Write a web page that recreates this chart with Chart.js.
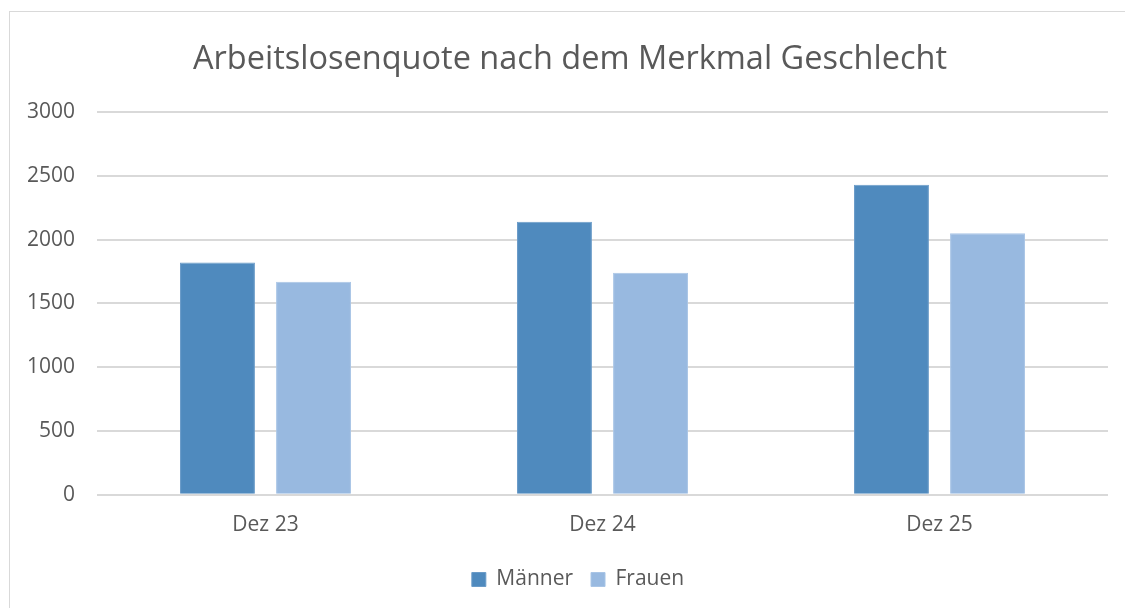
<!DOCTYPE html>
<html>
<head>
<meta charset="utf-8">
<script src="https://cdn.jsdelivr.net/npm/chart.js@4"></script>
<style>
  html, body { margin: 0; padding: 0; background: #fff; overflow: hidden; }
  #frame {
    position: absolute; left: 9px; top: 11px; width: 1200px; height: 620px;
    border: 1px solid #d9d9d9; box-sizing: border-box;
  }
  #wrap { position: absolute; left: 0; top: 0; width: 1125px; height: 608px; }
</style>
</head>
<body>
<div id="frame"></div>
<div id="wrap"><canvas id="chart"></canvas></div>
<script>
const categories = ["Dez 23", "Dez 24", "Dez 25"];
const maenner = [1820, 2140, 2430];
const frauen = [1670, 1740, 2050];
const yTicks = [0, 500, 1000, 1500, 2000, 2500, 3000];

const textColor = "#595959";
const font = "'Open Sans', sans-serif";

// title and legend sit a bit right of centre in the original
const shiftBlocks = {
  id: "shiftBlocks",
  afterLayout(chart) {
    chart.titleBlock.left += 16;
    chart.titleBlock.right += 16;
    chart.legend.left += 24;
    chart.legend.right += 24;
  },
};

const ctx = document.getElementById("chart").getContext("2d");

new Chart(ctx, {
  type: "bar",
  data: {
    labels: categories,
    datasets: [
      {
        label: "Männer",
        data: maenner,
        backgroundColor: "#4f8abe",
        borderColor: "#6a9bc8",
        borderWidth: 1,
      },
      {
        label: "Frauen",
        data: frauen,
        backgroundColor: "#98b9e0",
        borderColor: "#a9c5e6",
        borderWidth: 1,
      },
    ],
  },
  options: {
    responsive: true,
    maintainAspectRatio: false,
    animation: false,
    devicePixelRatio: 1,
    layout: { padding: { left: 0, right: 17, top: 40, bottom: 8 } },
    categoryPercentage: 0.57,
    barPercentage: 0.78,
    plugins: {
      title: {
        display: true,
        text: "Arbeitslosenquote nach dem Merkmal Geschlecht",
        color: textColor,
        font: { family: font, size: 32.5, weight: "normal" },
        padding: { top: 0, bottom: 33 },
      },
      legend: {
        position: "bottom",
        labels: {
          color: textColor,
          font: { family: font, size: 21 },
          boxWidth: 14,
          boxHeight: 14,
          padding: 18,
        },
      },
      tooltip: { enabled: false },
    },
    scales: {
      x: {
        grid: { display: false },
        border: { display: false },
        afterFit: (s) => { s.height += 3; },
        ticks: { color: textColor, font: { family: font, size: 21 }, padding: 10 },
      },
      y: {
        min: 0,
        max: 3000,
        afterBuildTicks: (s) => { s.ticks = yTicks.map((v) => ({ value: v })); },
        afterFit: (s) => { s.width = 97; },
        grid: { color: "#d9d9d9", lineWidth: 2, drawTicks: false },
        border: { display: false },
        ticks: {
          color: textColor,
          font: { family: font, size: 21 },
          padding: 22,
          callback: (v) => String(v),
        },
      },
    },
  },
  plugins: [shiftBlocks],
});
</script>
</body>
</html>
